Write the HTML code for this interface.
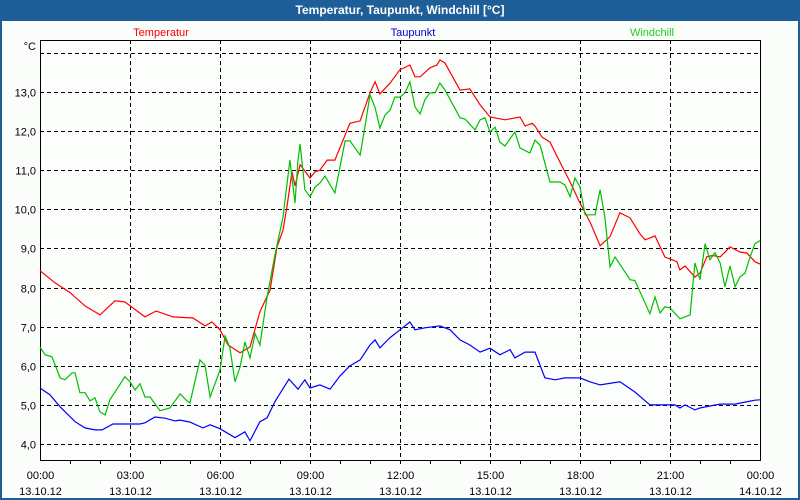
<!DOCTYPE html>
<html><head><meta charset="utf-8">
<style>
html,body{margin:0;padding:0;background:#1e5f99;}
#wrap{position:relative;width:800px;height:500px;background:#1e5f99;overflow:hidden;font-family:"Liberation Sans",sans-serif;}
#title{position:absolute;left:0;top:0;width:800px;height:20px;line-height:20px;text-align:center;color:#fff;font-weight:bold;font-size:12px;}
#panel{position:absolute;left:2px;top:21px;width:796px;height:477px;background:#fbfdfb;}
svg{position:absolute;left:0;top:0;}
</style></head>
<body>
<div id="wrap">
<div id="title">Temperatur, Taupunkt, Windchill [°C]</div>
<div id="panel"></div>
<svg id="chart" width="800" height="500"></svg>
</div>
<script>
const yTicks=[4,5,6,7,8,9,10,11,12,13,14];
const yTickLabels=["4,0","5,0","6,0","7,0","8,0","9,0","10,0","11,0","12,0","13,0",""];
const xTickHours=[0,3,6,9,12,15,18,21,24];
const xTickTimes=["00:00","03:00","06:00","09:00","12:00","15:00","18:00","21:00","00:00"];
const xTickDates=["13.10.12","13.10.12","13.10.12","13.10.12","13.10.12","13.10.12","13.10.12","13.10.12","14.10.12"];
const tempHours=[0,0.5,1,1.5,2,2.5,2.83,3.5,3.87,4.43,5.1,5.5,5.73,6,6.27,6.67,7,7.33,7.67,7.9,8.1,8.23,8.4,8.5,8.67,9,9.17,9.33,9.57,9.83,10.33,10.67,11,11.17,11.33,11.67,12,12.33,12.5,12.67,13,13.23,13.33,13.5,14,14.33,14.67,15,15.5,16,16.17,16.4,16.5,16.73,17,17.33,17.67,18,18.33,18.67,19,19.33,19.67,20,20.17,20.5,20.83,21.23,21.33,21.5,21.83,22,22.23,22.43,22.67,23,23.33,23.57,23.83,24];
const tempValues=[8.43,8.12,7.87,7.53,7.3,7.66,7.63,7.25,7.4,7.25,7.22,7.02,7.12,6.92,6.53,6.33,6.48,7.38,7.94,9.04,9.47,10.06,10.96,10.6,11.14,10.8,10.96,11.0,11.26,11.26,12.2,12.26,12.98,13.26,12.95,13.23,13.57,13.69,13.39,13.39,13.62,13.69,13.82,13.74,13.05,13.08,12.67,12.36,12.29,12.36,12.13,12.2,12.13,11.85,11.72,11.21,10.7,10.16,9.68,9.07,9.3,9.91,9.78,9.37,9.22,9.32,8.78,8.66,8.45,8.55,8.27,8.37,8.79,8.82,8.78,9.04,8.91,8.88,8.66,8.6];
const chillHours=[0,0.17,0.4,0.67,0.83,1.07,1.17,1.33,1.5,1.67,1.83,2,2.17,2.33,2.57,2.83,3,3.17,3.33,3.5,3.67,4,4.33,4.67,4.9,5,5.33,5.5,5.67,6,6.17,6.33,6.5,6.67,6.83,7,7.17,7.33,7.57,7.83,8.1,8.33,8.5,8.6,8.67,8.83,9,9.17,9.33,9.5,9.83,10.17,10.33,10.67,10.83,11,11.17,11.33,11.5,11.67,11.83,12,12.17,12.33,12.5,12.67,12.83,13,13.17,13.33,13.5,14,14.17,14.5,14.67,14.83,15,15.17,15.33,15.5,15.83,16,16.33,16.5,16.67,17,17.33,17.5,17.67,17.83,18,18.17,18.5,18.67,18.83,19,19.17,19.67,19.83,20.33,20.5,20.67,20.83,21,21.33,21.67,21.83,22,22.17,22.33,22.5,22.67,22.83,23,23.17,23.33,23.5,23.67,23.83,24];
const chillValues=[6.48,6.28,6.23,5.69,5.64,5.82,5.82,5.31,5.31,5.1,5.18,4.82,4.74,5.13,5.41,5.72,5.59,5.38,5.54,5.2,5.2,4.85,4.92,5.28,5.1,5.05,6.15,6.02,5.2,5.89,6.76,6.46,5.59,5.97,6.61,6.2,6.82,6.53,7.76,8.83,9.8,11.26,10.16,11.26,11.67,10.5,10.32,10.57,10.67,10.85,10.42,11.75,11.75,11.39,12.1,12.93,12.6,12.08,12.41,12.54,12.87,12.87,12.98,13.26,12.62,12.44,12.8,12.98,12.98,13.23,13.05,12.34,12.31,12.03,12.29,12.34,11.98,12.1,11.72,11.62,11.98,11.57,11.44,11.77,11.64,10.7,10.7,10.62,10.32,10.8,10.57,9.86,9.86,10.5,9.8,8.53,8.78,8.2,8.18,7.33,7.76,7.35,7.51,7.48,7.2,7.3,8.63,8.2,9.12,8.71,8.89,8.63,8.02,8.55,8.02,8.27,8.37,8.78,9.12,9.2];
const dewHours=[0,0.33,0.67,1.17,1.5,1.83,2.07,2.43,3.33,3.5,3.83,4.17,4.5,4.67,5,5.43,5.67,6,6.5,6.83,7,7.33,7.57,7.83,8.3,8.6,8.83,9,9.33,9.67,10,10.33,10.67,11,11.17,11.33,11.67,12,12.33,12.5,12.83,13.33,13.67,14,14.33,14.67,15,15.33,15.67,15.83,16.17,16.5,16.83,17.17,17.5,18,18.33,18.67,19.33,19.83,20.33,20.83,21.17,21.33,21.5,21.83,22,22.33,22.67,23.17,23.5,23.83,24];
const dewValues=[5.43,5.26,4.95,4.57,4.41,4.36,4.36,4.51,4.51,4.54,4.69,4.66,4.59,4.61,4.56,4.41,4.49,4.39,4.16,4.31,4.08,4.57,4.67,5.08,5.66,5.4,5.64,5.43,5.51,5.4,5.74,6.0,6.15,6.53,6.66,6.46,6.72,6.92,7.12,6.92,6.97,7.02,6.92,6.66,6.53,6.35,6.45,6.28,6.41,6.2,6.35,6.35,5.69,5.64,5.69,5.69,5.59,5.51,5.59,5.33,5.0,5.0,5.0,4.92,5.0,4.87,4.92,4.97,5.02,5.02,5.07,5.12,5.13];

const X0=40,X1=760,Y0=40,Y1=460,VMIN=3.59,VMAX=14.33;
const xs=h=>X0+(h/24)*(X1-X0);
const ys=v=>Y1-(v-VMIN)/(VMAX-VMIN)*(Y1-Y0);
const NS="http://www.w3.org/2000/svg";
const svg=document.getElementById('chart');
function mk(tag,attrs){const e=document.createElementNS(NS,tag);for(const k in attrs)e.setAttribute(k,attrs[k]);svg.appendChild(e);return e;}

mk('rect',{x:X0,y:Y0,width:X1-X0,height:Y1-Y0,fill:'#fcfefc',stroke:'none'});
yTicks.forEach((v,i)=>{
  const y=Math.round(ys(v))+0.5;
  const l=mk('line',{x1:X0,x2:X1,y1:y,y2:y,stroke:'#000','stroke-width':1,'stroke-dasharray':'4,3'});
  
  
  if(yTickLabels[i]){
    const t=mk('text',{x:36,y:y+4,'text-anchor':'end','font-size':'11',fill:'#000','font-family':'Liberation Sans, sans-serif'});
    t.textContent=yTickLabels[i];
    
    
  }
});
xTickHours.forEach((h,i)=>{
  const x=Math.round(xs(h))+0.5;
  if(h>0&&h<24){
    const l=mk('line',{x1:x,x2:x,y1:Y0,y2:Y1,stroke:'#000','stroke-width':1,'stroke-dasharray':'4,3'});
    
    
  }
  const t=mk('text',{x:x,y:479,'text-anchor':'middle','font-size':'11',fill:'#000','font-family':'Liberation Sans, sans-serif'});
  t.textContent=xTickTimes[i];
  
  
  const d=mk('text',{x:x,y:495,'text-anchor':'middle','font-size':'11',fill:'#000','font-family':'Liberation Sans, sans-serif'});
  d.textContent=xTickDates[i];
  
  
});
for(let h=1;h<24;h++){
  const x=Math.round(xs(h))+0.5;
  const l=mk('line',{x1:x,x2:x,y1:Y1,y2:Y1+4,stroke:'#000'});
  
  
}
const box=mk('rect',{x:X0+0.5,y:Y0+0.5,width:X1-X0,height:Y1-Y0,fill:'none',stroke:'#000','stroke-width':1});


const unit=mk('text',{x:36,y:50,'text-anchor':'end','font-size':'11',fill:'#000','font-family':'Liberation Sans, sans-serif'});
unit.textContent='°C';



function series(hs,vs,color,name){
  const p=hs.map((h,i)=>xs(h).toFixed(1)+','+ys(vs[i]).toFixed(1)).join(' ');
  const l=mk('polyline',{points:p,fill:'none',stroke:color,'stroke-width':1.2});
  
  
}
series(dewHours,dewValues,'#0000ff','taupunkt-line');
series(tempHours,tempValues,'#ff0000','temperatur-line');
series(chillHours,chillValues,'#00c000','windchill-line');

[['Temperatur',161,'#ff0000','legend-temperatur'],['Taupunkt',413,'#0000cc','legend-taupunkt'],['Windchill',652,'#22cc22','legend-windchill']].forEach(a=>{
  const t=mk('text',{x:a[1],y:36,'text-anchor':'middle','font-size':'11',fill:a[2],'font-family':'Liberation Sans, sans-serif'});
  t.textContent=a[0];
  
  
});
</script>
</body></html>
